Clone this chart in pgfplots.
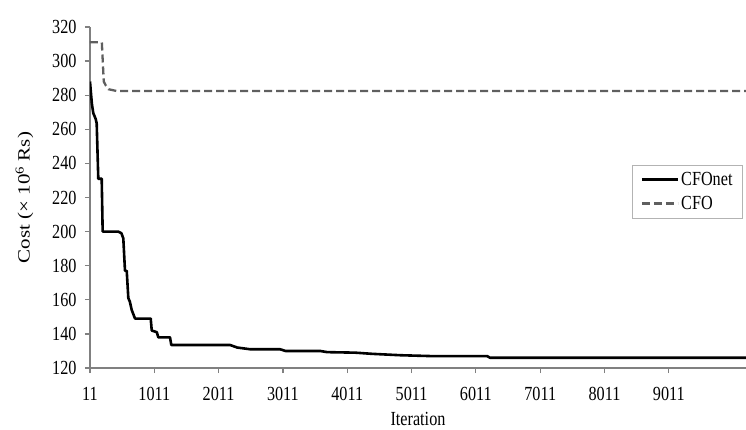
\documentclass[border=0pt]{standalone}
\usepackage{fontspec}
\setmainfont{Liberation Serif}[FakeStretch=0.81]
\newfontfamily\ylfont{Liberation Serif}
\usepackage{pgfplots}
\pgfplotsset{compat=1.18}
\definecolor{axgray}{RGB}{128,128,128}
\definecolor{cfogray}{RGB}{95,95,95}
\begin{document}
\begin{tikzpicture}
\useasboundingbox (-90bp,-62bp) rectangle (656bp,368bp);
\begin{axis}[
  at={(0,0)}, anchor=origin,
  scale only axis, width=656bp, height=341bp,
  xmin=11, xmax=10211, ymin=120, ymax=320,
  xtick={11,1011,2011,3011,4011,5011,6011,7011,8011,9011},
  ytick={120,140,...,320},
  scaled ticks=false,
  axis lines*=left,
  axis line style={axgray, line width=1.2bp},
  tick style={axgray, line width=1.2bp},
  tick align=outside, major tick length=5bp,
  /pgf/number format/assume math mode=true,
  /pgf/number format/fixed,
  /pgf/number format/1000 sep={},
  font=\fontsize{20bp}{24bp}\selectfont,
  xticklabel style={yshift=-11bp},
  yticklabel style={xshift=-5bp},
  xlabel={Iteration}, ylabel={\ylfont\fontsize{21bp}{24bp}\selectfont\scalebox{1}[0.82]{Cost (× 10\textsuperscript{6} Rs)}},
  xlabel style={yshift=-4bp},
  ylabel style={yshift=12bp},
  legend style={at={(0.995,0.595)}, anchor=north east, draw=axgray!60,
    font=\fontsize{20bp}{22bp}\selectfont, row sep=5bp,
    inner xsep=8bp, inner ysep=5bp},
  legend cell align=left,
  legend image code/.code={\draw[#1] (0bp,0bp) -- (36bp,0bp);},
  every axis legend/.append style={/tikz/every even column/.style={column sep=0bp}},
]
\addplot[black, line width=2.6bp, line join=round] coordinates {
(11,288) (40,275) (62,269.5) (100,266) (115,263.5) (140,231) (193,231) (208,200)
(451,200) (500,199) (529,196) (555,177) (582,177) (607,161) (630,159) (660,154)
(711,149) (955,149) (971,142) (1050,141) (1073,138) (1255,138) (1275,133.5)
(2188,133.5) (2300,132) (2500,131) (2966,131) (3050,130) (3588,130) (3700,129.3)
(4133,129) (4400,128.3) (4832,127.5) (5300,127) (6185,127) (6231,126) (10211,126)
};
\addlegendentry{CFOnet\hspace{10bp}}
\addplot[cfogray, line width=2.3bp, dash pattern=on 8bp off 4bp] coordinates {
(11,311) (195,311) (225,288) (260,285.5) (300,283.5) (420,282.5) (10211,282.5)
};
\addlegendentry{CFO}
\end{axis}
\end{tikzpicture}
\end{document}
